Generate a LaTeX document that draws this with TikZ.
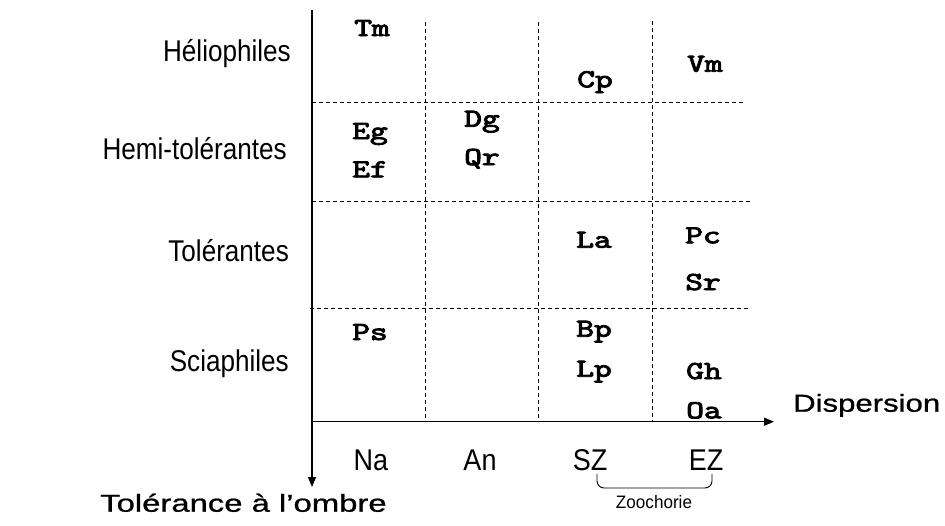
\documentclass[tikz,border=0pt]{standalone}
\usepackage{fontspec}
\setmainfont{Liberation Sans}
\newfontfamily\spfont{lmmono10-regular.otf}[FakeBold=3]
\newfontfamily\bigfont{Liberation Sans}[FakeBold=0.8]
\usepackage{graphicx}
\usetikzlibrary{arrows.meta}
\newcommand{\hsq}[2]{\scalebox{#1}[1]{#2}}
\begin{document}
\begin{tikzpicture}[x=1pt,y=-1pt,
  sp/.style={font=\spfont\fontsize{26}{30}\selectfont, inner sep=0pt, anchor=base},
  cat/.style={font=\fontsize{30}{36}\selectfont, inner sep=0pt, anchor=base east},
  dsp/.style={font=\fontsize{30}{36}\selectfont, inner sep=0pt, anchor=base},
  big/.style={font=\bigfont\fontsize{24.5}{30}\selectfont, inner sep=0pt, anchor=base west},
  small/.style={font=\fontsize{18}{22}\selectfont, inner sep=0pt, anchor=base},
  gridline/.style={line width=0.9pt, dash pattern=on 4pt off 3pt},
  axisline/.style={line width=1.2pt, -{Triangle[length=10pt,width=8pt]}},
  bracestyle/.style={line width=0.9pt, rounded corners=7pt}
]
\useasboundingbox (0,0) rectangle (945,525);
% axes
\coordinate (O) at (312,421.7);
\coordinate (ytop) at (312,10);
\coordinate (ytip) at (312,487);
\coordinate (xtip) at (774,421.7);
\draw[axisline] (ytop) -- (ytip);
\draw[axisline] (O) -- (xtip);
% grid
\coordinate (v1t) at (425.7,22); \coordinate (v1b) at (425.7,421.7);
\coordinate (v2t) at (538.7,22); \coordinate (v2b) at (538.7,421.7);
\coordinate (v3t) at (652.7,21); \coordinate (v3b) at (652.7,421.7);
\draw[gridline] (v1t) -- (v1b);
\draw[gridline] (v2t) -- (v2b);
\draw[gridline] (v3t) -- (v3b);
\coordinate (h1l) at (312,102.5); \coordinate (h1r) at (745,102.5);
\coordinate (h2l) at (312,201); \coordinate (h2r) at (752,201);
\coordinate (h3l) at (310,308.5); \coordinate (h3r) at (751,308.5);
\draw[gridline] (h1l) -- (h1r);
\draw[gridline] (h2l) -- (h2r);
\draw[gridline] (h3l) -- (h3r);
% category labels
\node[cat] (helio) at (291,61.7) {\hsq{0.87}{Héliophiles}};
\node[cat] (hemi) at (287,159.3) {\hsq{0.87}{Hemi-tolérantes}};
\node[cat] (tol) at (289,261.7) {\hsq{0.87}{Tolérantes}};
\node[cat] (scia) at (289,371) {\hsq{0.87}{Sciaphiles}};
% dispersion labels
\node[dsp] (Na) at (371,470) {\hsq{0.9}{Na}};
\node[dsp] (An) at (480,470) {\hsq{0.9}{An}};
\node[dsp] (SZ) at (590,470) {\hsq{0.9}{SZ}};
\node[dsp] (EZ) at (706,470) {\hsq{0.9}{EZ}};
\draw[bracestyle] (597,474) -- (597,488) -- (712,488) -- (712,474);
\node[small] (zoo) at (654,508.3) {\hsq{0.95}{Zoochorie}};
% axis titles
\node[big] (disp) at (793,411.7) {\hsq{1.27}{Dispersion}};
\node[big] (tolom) at (100,511.7) {\hsq{1.34}{Tolérance à l’ombre}};
% species
\node[sp] (Tm) at (372,36) {\hsq{1.3}{Tm}};
\node[sp] (Cp) at (595,87.3) {\hsq{1.3}{Cp}};
\node[sp] (Vm) at (705,71.7) {\hsq{1.3}{Vm}};
\node[sp] (Eg) at (370,139) {\hsq{1.3}{Eg}};
\node[sp] (Ef) at (370,177.3) {\hsq{1.3}{Ef}};
\node[sp] (Dg) at (482,126.7) {\hsq{1.3}{Dg}};
\node[sp] (Qr) at (482,165) {\hsq{1.3}{Qr}};
\node[sp] (La) at (594,247.7) {\hsq{1.3}{La}};
\node[sp] (Pc) at (703,243.3) {\hsq{1.3}{Pc}};
\node[sp] (Sr) at (703,290) {\hsq{1.3}{Sr}};
\node[sp] (Ps) at (370,340) {\hsq{1.3}{Ps}};
\node[sp] (Bp) at (594,336.7) {\hsq{1.3}{Bp}};
\node[sp] (Lp) at (594,376.7) {\hsq{1.3}{Lp}};
\node[sp] (Gh) at (704,379) {\hsq{1.3}{Gh}};
\node[sp] (Oa) at (704,418.3) {\hsq{1.3}{Oa}};
\end{tikzpicture}
\end{document}
